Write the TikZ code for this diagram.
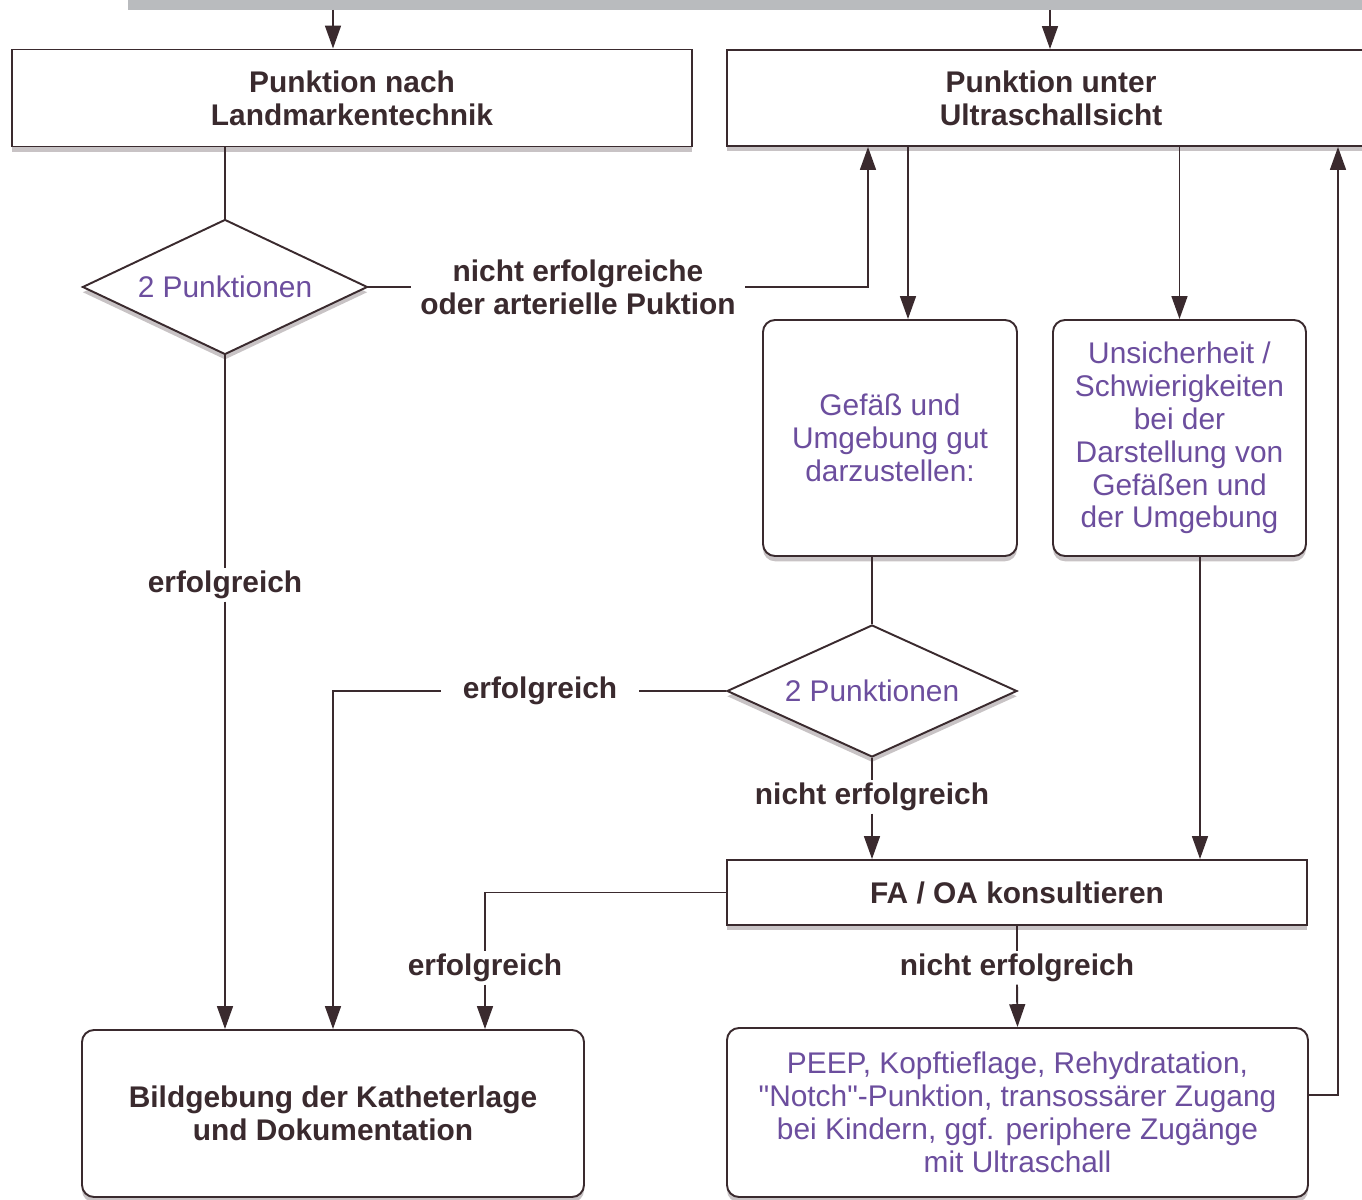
\documentclass[tikz,border=0pt]{standalone}
\usepackage{fontspec}
\setmainfont{Liberation Sans}[Ligatures=TeXOff]
\usepackage{tikz}
\usetikzlibrary{arrows.meta,shapes.geometric,shadows}

\definecolor{linecol}{RGB}{58,42,46}
\definecolor{purpletext}{RGB}{108,78,158}
\definecolor{barcol}{RGB}{185,187,190}

\begin{document}
\begin{tikzpicture}[->,>={Triangle[length=13pt,width=9pt]},line width=1.1pt,color=linecol,
		every node/.style={font=\fontsize{17}{18.7}\selectfont},
		my shadow/.style={drop shadow={shadow xshift=0pt,shadow yshift=-3pt,opacity=0.4,fill=linecol!70}},
		plain box/.style={rectangle,draw,fill=white,align=center,inner sep=0pt,my shadow,
			font=\fontsize{17}{18.7}\selectfont\bfseries},
		round box/.style={rectangle,rounded corners=0.24cm,draw,fill=white,align=center,inner sep=0pt,
			text=purpletext,my shadow},
		choice/.style={diamond,aspect=2.1,draw,fill=white,inner sep=0pt,text=purpletext,my shadow},
		edge label/.style={align=center,inner xsep=5pt,inner ysep=1pt,
			font=\fontsize{17}{18.7}\selectfont\bfseries}]

		\useasboundingbox (0,0) rectangle (27.24,-24);
		\fill[barcol] (2.56,0.1) rectangle (27.5,-0.2);

		% top row
		\coordinate (topA) at (6.66,-0.2);
		\coordinate (topB) at (21.0,-0.2);
		\node[plain box,minimum width=13.6cm,minimum height=1.94cm] (landmark) at (7.04,-1.96) {Punktion nach\\Landmarkentechnik};
		\node[plain box,minimum width=12.96cm,minimum height=1.92cm] (ultra) at (21.02,-1.96) {Punktion unter\\Ultraschallsicht};

		% decisions and boxes
		\node[choice,minimum width=5.7cm,minimum height=2.7cm] (punkA) at (4.5,-5.74) {2 Punktionen};
		\node[edge label] (lblNicht) at (11.56,-5.74) {nicht erfolgreiche\\oder arterielle Puktion};
		\coordinate (knickA) at (17.36,-5.74);
		\node[round box,minimum width=5.08cm,minimum height=4.72cm] (gut) at (17.8,-8.76) {Gefäß und\\Umgebung gut\\darzustellen:};
		\node[round box,minimum width=5.06cm,minimum height=4.72cm] (unsicher) at (23.59,-8.76) {Unsicherheit /\\Schwierigkeiten\\bei der\\Darstellung von\\Gefäßen und\\der Umgebung};
		\node[edge label] (lblErfA) at (4.5,-11.7) {erfolgreich};
		\node[choice,minimum width=5.8cm,minimum height=2.64cm] (punkB) at (17.44,-13.82) {2 Punktionen};
		\node[edge label,inner xsep=12pt] (lblErfB) at (10.8,-13.82) {erfolgreich};
		\node[edge label] (lblNichtB) at (17.44,-15.94) {nicht erfolgreich};
		\node[plain box,minimum width=11.6cm,minimum height=1.3cm] (konsult) at (20.34,-17.85) {FA / OA konsultieren};
		\node[edge label] (lblErfC) at (9.7,-19.36) {erfolgreich};
		\node[edge label] (lblNichtC) at (20.34,-19.36) {nicht erfolgreich};
		\node[round box,text=linecol,minimum width=10.04cm,minimum height=3.34cm,
			font=\fontsize{17}{18.7}\selectfont\bfseries] (bild) at (6.66,-22.27) {Bildgebung der Katheterlage\\und Dokumentation};
		\node[round box,minimum width=11.62cm,minimum height=3.38cm] (massnahmen) at (20.35,-22.25) {PEEP, Kopftieflage, Rehydratation,\\"Notch"-Punktion, transossärer Zugang\\bei Kindern, ggf. periphere Zugänge\\mit Ultraschall};
		\coordinate (knickB) at (26.76,0);

		% connectors
		\draw (topA) -- (topA |- landmark.north);
		\draw (topB) -- (topB |- ultra.north);
		\draw[-] (punkA.north |- landmark.south) -- (punkA.north);
		\draw[-] (punkA.east) -- (lblNicht.west);
		\draw (lblNicht.east) -| (knickA |- ultra.south);
		\draw ([xshift=0.36cm]gut.north |- ultra.south) -- ([xshift=0.36cm]gut.north);
		\draw (unsicher.north |- ultra.south) -- (unsicher.north);
		\draw[-] (punkA.south) -- (lblErfA.north);
		\draw (lblErfA.south) -- (lblErfA.south |- bild.north);
		\draw[-] (punkB.north |- gut.south) -- (punkB.north);
		\draw[-] (punkB.west) -- (lblErfB.east);
		\draw (lblErfB.west) -| (bild.north);
		\draw[-] (punkB.south) -- (lblNichtB.north);
		\draw (lblNichtB.south) -- (lblNichtB.south |- konsult.north);
		\draw ([xshift=0.41cm]unsicher.south) -- ([xshift=0.41cm]unsicher.south |- konsult.north);
		\draw[-] (konsult.west) -| (lblErfC.north);
		\draw (lblErfC.south) -- (lblErfC.south |- bild.north);
		\draw[-] (konsult.south) -- (lblNichtC.north);
		\draw (lblNichtC.south) -- (massnahmen.north);
		\draw ([yshift=0.35cm]massnahmen.east) -| (knickB |- ultra.south);
	\end{tikzpicture}
\end{document}
